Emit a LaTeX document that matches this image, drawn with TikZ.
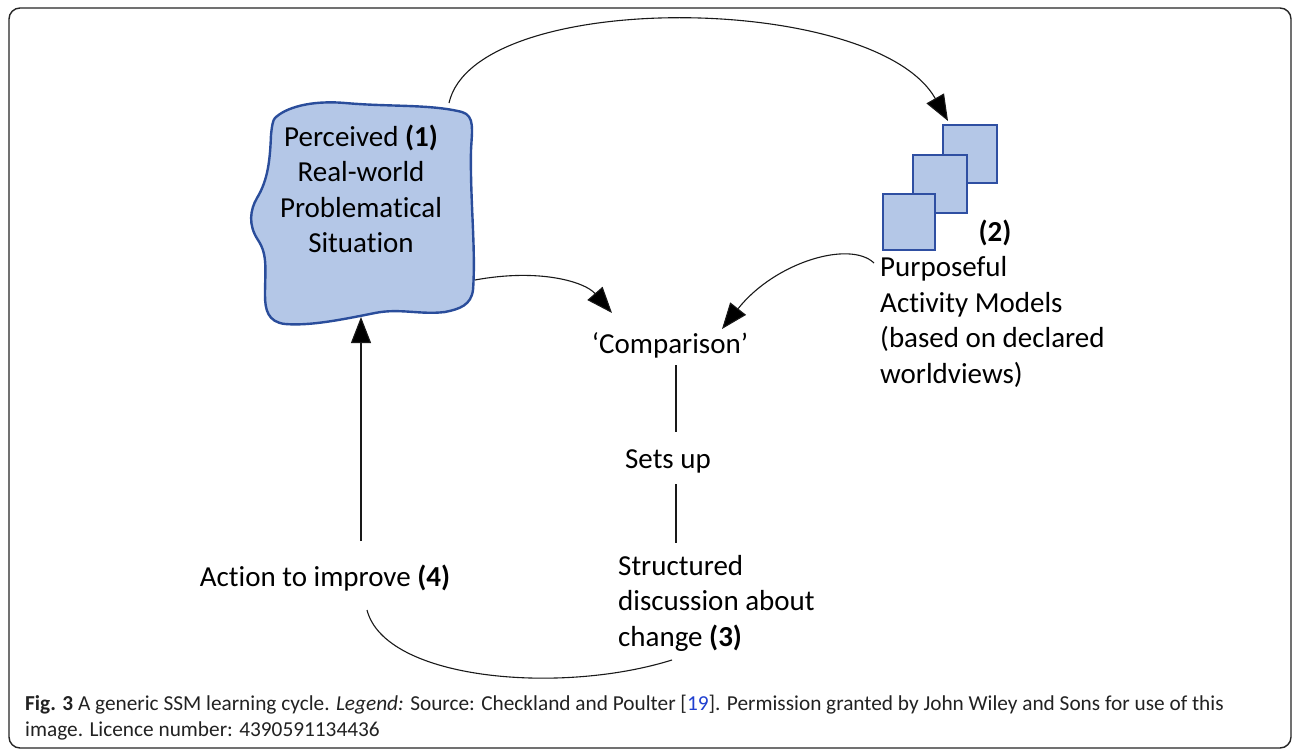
\documentclass[tikz,border=0pt]{standalone}
\usepackage{fontspec}
\setmainfont{Carlito}[Ligatures={NoCommon}]
\newfontfamily\capfont{Carlito}[Ligatures={NoCommon}]
\usetikzlibrary{arrows.meta}
\definecolor{blobfill}{HTML}{B4C7E7}
\definecolor{blobline}{HTML}{2A4D9B}
\definecolor{sqline}{HTML}{2F4FA2}
\definecolor{linkblue}{HTML}{1F3FD0}
\definecolor{captext}{HTML}{222222}
\tikzset{
  lbl/.style={inner sep=0pt, font=\fontsize{29}{35.5}\selectfont},
  conn/.style={draw=black!90, line width=1.1pt},
  tiparrow/.style={-{Triangle[length=26pt,width=20pt,fill=black]}},
  sq/.style={draw=sqline, fill=blobfill, line width=1.8pt},
  captionline/.style={inner sep=0pt, anchor=base west, text=captext, font=\capfont\fontsize{21.3}{26}\selectfont},
}
\begin{document}
\begin{tikzpicture}[x=1pt,y=-1pt]
\useasboundingbox (0,0) rectangle (1292,751);
\fill[white] (0,0) rectangle (1292,751);
% frame
\draw[line width=1.4pt, rounded corners=11pt, draw=black!85] (9,8) rectangle (1291,748);
% blob
\draw[draw=blobline, fill=blobfill, line width=2.4pt]
  (275,118) .. controls (285,108) and (310,100) .. (345,103)
  .. controls (390,107) and (430,104) .. (462,112)
  .. controls (475,116) and (472,130) .. (471,150)
  .. controls (470,200) and (476,250) .. (473,290)
  .. controls (471,305) and (460,309) .. (445,312)
  .. controls (420,315) and (400,308) .. (375,313)
  .. controls (340,320) and (310,326) .. (285,324)
  .. controls (268,322) and (265,310) .. (265,295)
  .. controls (265,270) and (268,255) .. (258,240)
  .. controls (248,225) and (250,210) .. (257,198)
  .. controls (268,180) and (270,160) .. (271,135)
  .. controls (272,125) and (273,120) .. (275,118) -- cycle;
\node[lbl, align=center, anchor=base] (situation) at (361,253)
  {Perceived \textbf{(1)}\\Real-world\\Problematical\\Situation};
\coordinate (blobtop) at (449,103);
\coordinate (blobright) at (475,280);
\coordinate (blobbottom) at (361,317);
% squares
\node[sq, minimum width=54pt, minimum height=58pt, inner sep=0pt] (sqc) at (970,154) {};
\node[sq, minimum width=54pt, minimum height=58pt, inner sep=0pt] (sqb) at (940,184) {};
\node[sq, minimum width=52pt, minimum height=56pt, inner sep=0pt] (sqa) at (909,222) {};
\node[lbl, anchor=base] (two) at (995,242) {\textbf{(2)}};
\node[lbl, align=left, anchor=base west] (models) at (880,383)
  {Purposeful\\Activity Models\\(based on declared\\worldviews)};
\coordinate (modelsleft) at (874,263);
% comparison
\node[lbl, anchor=base] (comparison) at (670,353) {`Comparison'};
\node[lbl, anchor=base] (setsup) at (668,468) {Sets up};
\node[lbl, align=left, anchor=base west] (discussion) at (618,646)
  {Structured\\discussion about\\change \textbf{(3)}};
\node[lbl, anchor=base] (action) at (325,586) {Action to improve \textbf{(4)}};
\coordinate (cmpL) at (612,313);
\coordinate (cmpR) at (722,329);
\coordinate (sqtip) at (948,121);
\coordinate (cmpB) at (676,365);
\coordinate (setT) at (676,432);
\coordinate (setB) at (676,484);
\coordinate (disT) at (676,543);
\coordinate (actB) at (361,541);
\coordinate (loopS) at (367,610);
\coordinate (loopE) at (672,660);
% connectors
\draw[conn, tiparrow] (blobtop) .. controls (475,-12) and (875,-8) .. (sqtip);
\draw[conn, tiparrow] (blobright) .. controls (540,268) and (585,282) .. (cmpL);
\draw[conn, tiparrow] (modelsleft) .. controls (850,240) and (775,262) .. (cmpR);
\draw[conn] (cmpB) -- (setT);
\draw[conn] (setB) -- (disT);
\draw[conn, tiparrow] (actB) -- (blobbottom);
\draw[conn] (loopS) .. controls (385,680) and (560,695) .. (loopE);
% caption
\node[captionline] (cap1) at (25,710) {\textbf{Fig. 3} A generic SSM learning cycle. \textit{Legend:} Source: Checkland and Poulter [\textcolor{linkblue}{19}]. Permission granted by John Wiley and Sons for use of this};
\node[captionline] (cap2) at (25,736) {image. Licence number: 4390591134436};
\end{tikzpicture}
\end{document}
